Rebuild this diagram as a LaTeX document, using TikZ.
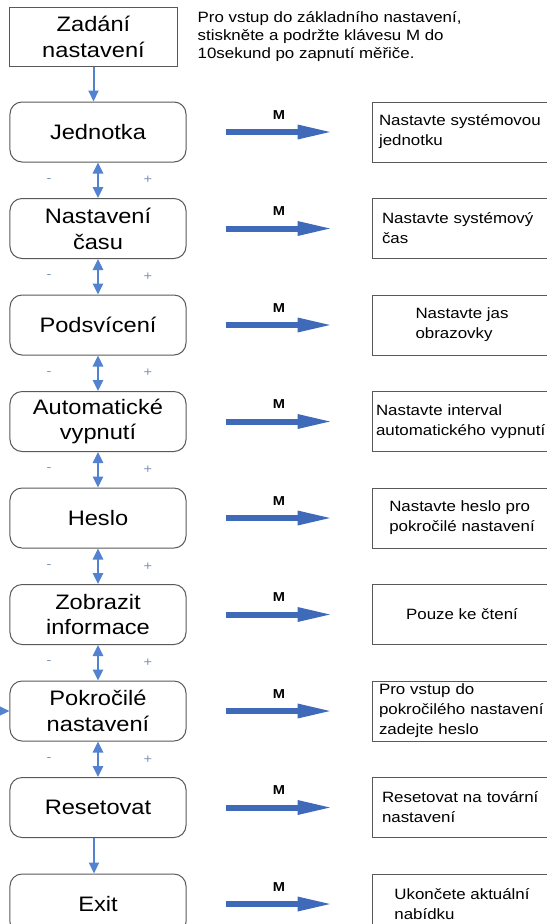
\documentclass[tikz,border=0pt]{standalone}
\usepackage{fontspec}
\setmainfont[FakeStretch=1.13]{Liberation Sans}
\usetikzlibrary{arrows.meta,positioning}

\definecolor{arrowblue}{RGB}{63,106,186}
\definecolor{navblue}{RGB}{82,130,208}
\definecolor{signgrey}{RGB}{125,145,185}

\begin{document}
\begin{tikzpicture}[
    x=1bp, y=1bp,
    node distance=35.5bp,
    startbox/.style={
        draw=black!65,
        line width=1bp,
        minimum width=167bp,
        minimum height=59bp,
        align=center,
        inner sep=2bp,
        font=\fontsize{21}{26}\selectfont
    },
    menubox/.style={
        startbox,
        rounded corners=12bp,
        minimum width=176bp,
        minimum height=60bp
    },
    infobox/.style={
        draw=black!65,
        line width=1bp,
        minimum width=180bp,
        minimum height=60bp,
        align=left,
        inner xsep=7bp,
        inner ysep=3bp,
        font=\fontsize{15}{20}\selectfont
    },
    flushtext/.style={text width=178bp},
    notetext/.style={align=left, inner sep=2bp, font=\fontsize{15}{18}\selectfont},
    marrow/.style={
        draw=arrowblue,
        line width=6bp,
        -{Triangle[length=36bp,width=13bp]},
        shorten <=39bp,
        shorten >=38bp
    },
    mlabel/.style={font=\fontsize{13}{15}\selectfont\bfseries, inner sep=2bp},
    navarrow/.style={
        draw=navblue,
        line width=2.5bp,
        {Triangle[length=11bp,width=10bp]}-{Triangle[length=11bp,width=10bp]}
    },
    downarrow/.style={
        draw=navblue,
        line width=2bp,
        -{Triangle[length=11bp,width=10bp]}
    },
    signtext/.style={text=signgrey, font=\fontsize{13}{15}\selectfont, inner sep=1bp}
]

\useasboundingbox (0,0) rectangle (547,-924);

% left column
\node[startbox] (start) at (93.5,-36.5) {Zadání\\nastavení};
\node[menubox] (jed) at (98,-132) {Jednotka};
\node[menubox, below=of jed] (cas) {Nastavení\\času};
\node[menubox, below=of cas] (pod) {Podsvícení};
\node[menubox, below=of pod] (auto) {Automatické\\vypnutí};
\node[menubox, below=of auto] (heslo) {Heslo};
\node[menubox, below=of heslo] (info) {Zobrazit\\informace};
\node[menubox, below=of info] (pok) {Pokročilé\\nastavení};
\node[menubox, below=of pok] (reset) {Resetovat};
\node[menubox, below=of reset] (exit) {Exit};

\node[notetext, anchor=north west] (note) at ([xshift=18bp, yshift=-3bp]start.north east)
    {Pro vstup do základního nastavení,\\stiskněte a podržte klávesu M do\\10sekund po zapnutí měřiče.};

% right column
\node[infobox, flushtext, right=185bp of jed] (jedR) {Nastavte systémovou\\jednotku};
\node[infobox, flushtext, right=185bp of cas] (casR) {\hspace*{3bp}Nastavte systémový\\\hspace*{3bp}čas};
\node[infobox, right=185bp of pod] (podR) {Nastavte jas\\obrazovky};
\node[infobox, flushtext, inner xsep=4bp, right=185bp of auto] (autoR) {Nastavte interval\\automatického vypnutí};
\node[infobox, right=185bp of heslo] (hesloR) {Nastavte heslo pro\\pokročilé nastavení};
\node[infobox, right=185bp of info] (infoR) {Pouze ke čtení};
\node[infobox, flushtext, right=185bp of pok] (pokR) {Pro vstup do\\pokročilého nastavení\\zadejte heslo};
\node[infobox, flushtext, right=185bp of reset] (resetR) {\hspace*{3bp}Resetovat na tovární\\\hspace*{3bp}nastavení};
\node[infobox, right=185bp of exit] (exitR) {Ukončete aktuální\\nabídku};

% M arrows
\foreach \src in {jed,cas,pod,auto,heslo,info,pok,reset,exit}
    \draw[marrow] (\src.east) -- (\src.east -| \src R.west)
        node[mlabel, midway, above=8bp] {M};

% navigation
\draw[downarrow] (start.south) -- (start.south |- jed.north);
\foreach \a/\b in {jed/cas,cas/pod,pod/auto,auto/heslo,heslo/info,info/pok,pok/reset}
    \draw[navarrow] (\a.south) -- (\b.north)
        node[signtext, midway, xshift=-49bp] {-}
        node[signtext, midway, xshift=50bp] {+};
\draw[downarrow] ([xshift=-4bp]reset.south) -- ([xshift=-4bp]exit.north);

\coordinate (pokentry) at (-8,0 |- pok.west);
\draw[downarrow] (pokentry) -- (pok.west);

\end{tikzpicture}
\end{document}
